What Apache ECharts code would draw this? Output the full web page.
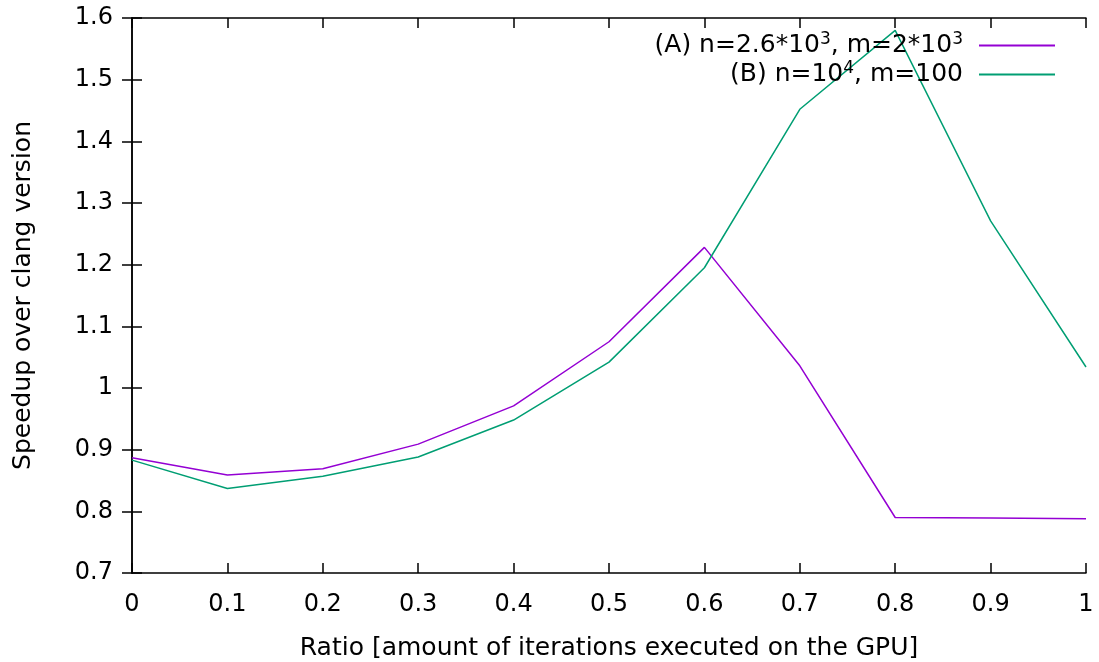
<!DOCTYPE html>
<html>
<head>
<meta charset="utf-8">
<script src="https://cdn.jsdelivr.net/npm/echarts@6/dist/echarts.min.js"></script>
<style>
  html, body { margin: 0; padding: 0; background: #fff; }
  #chart { width: 1099px; height: 662px; }
</style>
</head>
<body>
<div id="chart"></div>
<script>
// ratio of iterations on the GPU
var ratios = [0, 0.1, 0.2, 0.3, 0.4, 0.5, 0.6, 0.7, 0.8, 0.9, 1];
// (A) n=2.6*10^3, m=2*10^3
var speedupA = [0.887, 0.859, 0.869, 0.909, 0.971, 1.075, 1.228, 1.036, 0.790, 0.789, 0.788];
// (B) n=10^4, m=100
var speedupB = [0.883, 0.837, 0.857, 0.888, 0.948, 1.042, 1.195, 1.452, 1.580, 1.271, 1.034];

var nameA = 'A';
var nameB = 'B';

function pairs(xs, ys) {
    var res = [];
    for (var i = 0; i < xs.length; i++) res.push([xs[i], ys[i]]);
    return res;
}

var font = 'DejaVu Sans';
var chart = echarts.init(document.getElementById('chart'));

var tickStyle = { show: true, inside: true, length: 10, lineStyle: { color: '#000', width: 1.5 } };
var lineStyleAxis = { show: true, lineStyle: { color: '#000', width: 1.5 } };

var option = {
    animation: false,
    backgroundColor: '#fff',
    textStyle: { fontFamily: font },
    grid: { left: 132, right: 13, top: 18, bottom: 89, containLabel: false, outerBoundsMode: 'none' },
    legend: {
        orient: 'vertical',
        right: 39,
        top: 26,
        align: 'right',
        icon: 'rect',
        itemWidth: 76,
        itemHeight: 2,
        itemGap: 2,
        data: [nameA, nameB],
        formatter: function (name) {
            if (name === nameA) return '(A) n=2.6*10{sup|3}, m=2*10{sup|3}';
            return '(B) n=10{sup|4}, m=100';
        },
        textStyle: {
            fontFamily: font,
            fontSize: 25,
            color: '#000',
            padding: [0, 11, 0, 0],
            rich: {
                sup: { fontFamily: font, fontSize: 17, color: '#000', padding: [0, 0, 12, 0] }
            }
        }
    },
    xAxis: [{
        type: 'value',
        min: 0,
        max: 1,
        interval: 0.1,
        name: 'Ratio [amount of iterations executed on the GPU]',
        nameLocation: 'middle',
        nameGap: 63,
        nameTextStyle: { fontFamily: font, fontSize: 25, color: '#000' },
        axisLine: lineStyleAxis,
        axisTick: tickStyle,
        splitLine: { show: false },
        axisLabel: { fontFamily: font, fontSize: 24, color: '#000', margin: 20 }
    }, {
        type: 'value',
        position: 'top',
        min: 0,
        max: 1,
        interval: 0.1,
        axisLine: lineStyleAxis,
        axisTick: tickStyle,
        splitLine: { show: false },
        axisLabel: { show: false }
    }],
    yAxis: [{
        type: 'value',
        min: 0.7,
        max: 1.6,
        interval: 0.1,
        name: 'Speedup over clang version',
        nameLocation: 'middle',
        nameGap: 96,
        nameTextStyle: { fontFamily: font, fontSize: 25, color: '#000' },
        axisLine: lineStyleAxis,
        axisTick: tickStyle,
        splitLine: { show: false },
        axisLabel: { fontFamily: font, fontSize: 24, color: '#000', margin: 19 }
    }, {
        type: 'value',
        position: 'right',
        min: 0.7,
        max: 1.6,
        interval: 0.1,
        axisLine: lineStyleAxis,
        axisTick: tickStyle,
        splitLine: { show: false },
        axisLabel: { show: false }
    }],
    series: [{
        name: nameA,
        type: 'line',
        data: pairs(ratios, speedupA),
        showSymbol: false,
        color: '#9400d3',
        lineStyle: { width: 1.5, color: '#9400d3' }
    }, {
        name: nameB,
        type: 'line',
        data: pairs(ratios, speedupB),
        showSymbol: false,
        color: '#009e73',
        lineStyle: { width: 1.5, color: '#009e73' }
    }]
};

chart.setOption(option);
</script>
</body>
</html>
